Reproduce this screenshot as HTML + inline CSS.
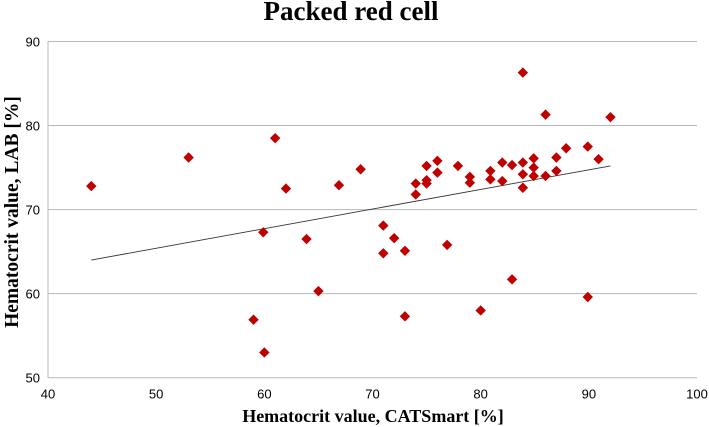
<!DOCTYPE html>
<html><head><meta charset="utf-8"><style>
body{margin:0;background:#fff;}
svg{display:block;}
</style></head><body>
<svg id="chart" width="709" height="427" xmlns="http://www.w3.org/2000/svg">
<text x="351" y="20" text-anchor="middle" font-family="Liberation Serif, serif" font-weight="bold" font-size="27">Packed red cell</text>
<text transform="translate(18,212) rotate(-90)" text-anchor="middle" font-family="Liberation Serif, serif" font-weight="bold" font-size="19.5">Hematocrit value, LAB [%]</text>
<text x="373" y="422" text-anchor="middle" font-family="Liberation Serif, serif" font-weight="bold" font-size="18">Hematocrit value, CATSmart [%]</text>
<g id="grid"></g><g id="ticks"></g><g id="marks"></g>
</svg>
<script>
const xVals=[44,53,61,62,66.9,68.9,59.9,63.9,65,59,60,71,71,83.9,86,92,89.9,90.9,87.9,87,87,86,84.9,84.9,84.9,83.9,83.9,83.9,82.9,82,82,80.9,80.9,79,79,77.9,76,76,75,75,75,74,74,72,73,76.9,82.9,89.9,80,73];
const yVals=[72.8,76.2,78.5,72.5,72.9,74.8,67.3,66.5,60.3,56.9,53,68.1,64.8,86.3,81.3,81,77.5,76,77.3,76.2,74.6,74,76.1,75,74,75.6,74.2,72.6,75.3,75.6,73.4,74.6,73.6,73.9,73.2,75.2,75.8,74.4,75.2,73.5,73.1,73.1,71.8,66.6,65.1,65.8,61.7,59.6,58,57.3];
const xTicks=[40,50,60,70,80,90,100];
const yTicks=[50,60,70,80,90];
const trendX=[44,92];
const trendY=[64.0,75.2];
const NS='http://www.w3.org/2000/svg';
const X0=48,X1=697,Y0=377.7,Y1=41.5;
const sx=v=>X0+(v-40)/60*(X1-X0);
const sy=v=>Y0-(v-50)/40*(Y0-Y1);
function mk(t,a,p){const e=document.createElementNS(NS,t);for(const k in a)e.setAttribute(k,a[k]);document.getElementById(p).appendChild(e);return e;}
yTicks.forEach(v=>{
  const l=mk('line',{x1:X0,x2:X1,y1:sy(v),y2:sy(v),stroke:'#b8b8b8','stroke-width':1},'grid');
  
  
  const t=mk('text',{x:X0-8,y:sy(v)+5,'text-anchor':'end','font-family':'Liberation Sans, sans-serif','font-size':13},'ticks');
  t.textContent=v;
  
  
});
const ax=mk('line',{x1:X0,x2:X0,y1:Y1,y2:Y0,stroke:'#b8b8b8','stroke-width':1},'grid');


xTicks.forEach(v=>{
  const t=mk('text',{x:sx(v),y:Y0+21,'text-anchor':'middle','font-family':'Liberation Sans, sans-serif','font-size':13},'ticks');
  t.textContent=v;
  
  
});
const tl=mk('line',{x1:sx(trendX[0]),y1:sy(trendY[0]),x2:sx(trendX[1]),y2:sy(trendY[1]),stroke:'#333','stroke-width':0.9},'marks');


xVals.forEach((xv,i)=>{
  const cx=sx(xv),cy=sy(yVals[i]),r=5.2;
  const p=mk('polygon',{points:`${cx},${cy-r} ${cx+r},${cy} ${cx},${cy+r} ${cx-r},${cy}`,fill:'#c00000'},'marks');
  
  
});
</script>
</body></html>
